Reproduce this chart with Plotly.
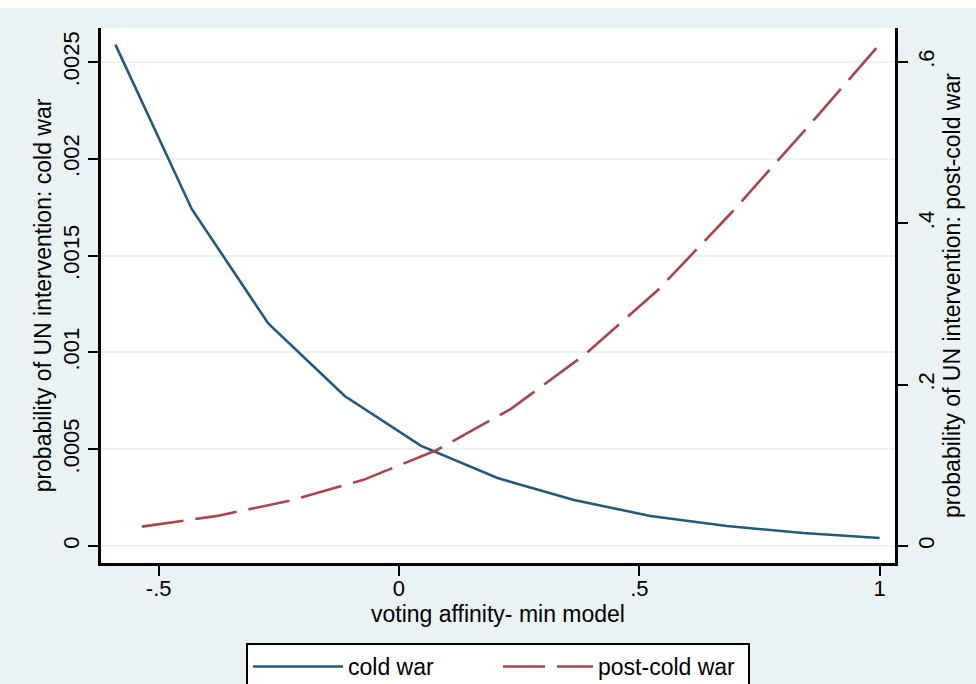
import plotly.graph_objects as go

# ---- data ----
x_cold = [-0.59, -0.431, -0.272, -0.113, 0.046, 0.205, 0.364, 0.523, 0.682, 0.841, 1.0]
y_cold = [0.00259, 0.00174, 0.00115, 0.000775, 0.000517, 0.000351, 0.000238, 0.000155, 0.000103, 0.000067, 0.000041]

x_post = [-0.535, -0.381, -0.228, -0.074, 0.079, 0.233, 0.386, 0.540, 0.693, 0.847, 1.0]
y_post = [0.024, 0.037, 0.056, 0.082, 0.119, 0.170, 0.237, 0.318, 0.414, 0.517, 0.622]

x_ticks = [-0.5, 0, 0.5, 1]
x_ticktext = ["-.5", "0", ".5", "1"]
yl_ticks = [0, 0.0005, 0.001, 0.0015, 0.002, 0.0025]
yl_ticktext = ["0", ".0005", ".001", ".0015", ".002", ".0025"]
yr_ticks = [0, 0.2, 0.4, 0.6]
yr_ticktext = ["0", ".2", ".4", ".6"]

FONT = "Liberation Sans, Arial, Helvetica, sans-serif"
BG = "#eaf2f3"
BLUE = "#22597d"
RED = "#ab444b"
TICK_SIZE = 22
TITLE_SIZE = 23

fig = go.Figure()
fig.add_trace(go.Scatter(x=x_cold, y=y_cold, mode="lines", name="cold war",
                         line=dict(color=BLUE, width=2.6), yaxis="y"))
fig.add_trace(go.Scatter(x=x_post, y=y_post, mode="lines", name="post-cold war",
                         line=dict(color=RED, width=2.6, dash="42px,12px"), yaxis="y2"))

axis_common = dict(showline=True, linecolor="black", linewidth=2.5,
                   ticks="outside", ticklen=10, tickwidth=2, tickcolor="black",
                   zeroline=False, tickfont=dict(family=FONT, size=TICK_SIZE, color="black"))

fig.update_layout(
    width=976, height=684,
    margin=dict(l=101, r=81, t=28, b=121, autoexpand=False),
    paper_bgcolor=BG, plot_bgcolor="white",
    font=dict(family=FONT, size=TICK_SIZE, color="black"),
    xaxis=dict(range=[-0.620, 1.032], tickvals=x_ticks, ticktext=x_ticktext,
               showgrid=False, ticklabelstandoff=-6,
               title=dict(text="voting affinity- min model", font=dict(family=FONT, size=TITLE_SIZE), standoff=2),
               **axis_common),
    yaxis=dict(range=[-0.0000878, 0.002676], tickvals=yl_ticks, ticktext=yl_ticktext,
               tickangle=-90, showgrid=True, gridcolor=BG, gridwidth=2,
               title=dict(text="probability of UN intervention: cold war", font=dict(family=FONT, size=TITLE_SIZE), standoff=2),
               **axis_common),
    yaxis2=dict(range=[-0.02107, 0.6421], tickvals=yr_ticks, ticktext=yr_ticktext,
                overlaying="y", side="right", tickangle=-90, showgrid=False,
                title=dict(text="probability of UN intervention: post-cold war", font=dict(family=FONT, size=TITLE_SIZE), standoff=4),
                **axis_common),
    legend=dict(orientation="h", x=0.5, xanchor="center", y=-0.1495, yanchor="top",
                bgcolor="white", bordercolor="black", borderwidth=2,
                font=dict(family=FONT, size=TITLE_SIZE), itemwidth=90,
                entrywidth=145, entrywidthmode="pixels"),
    shapes=[dict(type="rect", xref="paper", yref="paper", x0=-0.13, x1=1.11,
                 y0=1.0374, y1=1.06, fillcolor="white", line=dict(width=0), layer="below")],
)

fig.write_html("out.html")
